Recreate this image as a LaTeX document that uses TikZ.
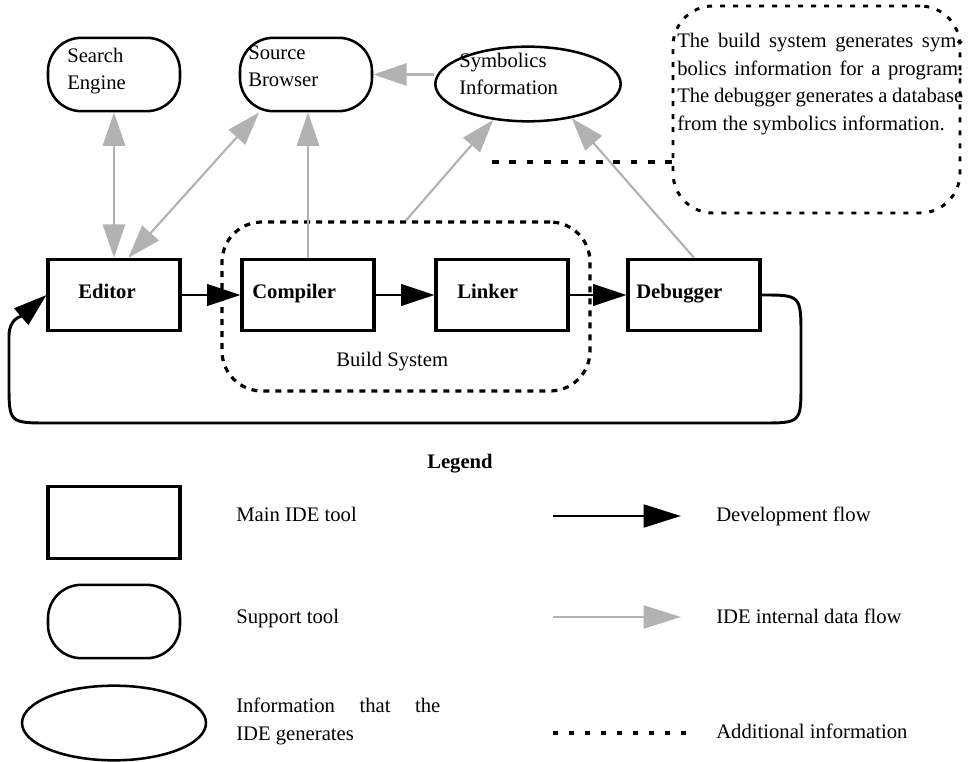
\documentclass[tikz,border=0pt]{standalone}
\usepackage{fontspec}
\setmainfont{Liberation Serif}
\usetikzlibrary{arrows.meta,shapes.geometric,calc}
\definecolor{flowgrey}{RGB}{178,178,178}

\begin{document}
\begin{tikzpicture}[x=0.75pt,y=0.75pt,yscale=-1,xscale=1,
  every node/.style={font=\fontsize{15.5}{20.6}\selectfont},
  tool/.style={draw, line width=2.3pt, minimum width=99pt, minimum height=53.5pt, inner sep=0pt},
  support/.style={draw, line width=1.9pt, rounded corners=25pt, minimum width=99pt, minimum height=55pt, inner sep=0pt},
  info/.style={draw, ellipse, line width=1.9pt, minimum width=139pt, minimum height=56pt, inner sep=0pt},
  txt/.style={inner sep=0pt, align=left},
  devflow/.style={line width=2.2pt, -{Triangle[length=25pt,width=16pt]}},
  dataflow/.style={color=flowgrey, line width=2.1pt, -{Triangle[length=25pt,width=16.5pt]}},
  twoway/.style={color=flowgrey, line width=2.1pt, {Triangle[length=25pt,width=16.5pt]}-{Triangle[length=25pt,width=16.5pt]}},
  region/.style={draw, line width=2.4pt, dash pattern={on 4.5pt off 4.5pt}},
  addinfo/.style={line width=2.3pt, dash pattern={on 5pt off 8pt}},
]
\useasboundingbox (0,0) rectangle (973,762);

%Shapes: Main IDE tools
\node [tool] (editor) at (114,295) {};
\node [tool] (compiler) at (308,295) {};
\node [tool] (linker) at (502,295) {};
\node [tool] (debugger) at (694,295) {};
%Shapes: Support tools and information
\node [support] (search) at (114,74.5) {};
\node [support] (source) at (306,74.5) {};
\node [info] (symb) at (528,84) {};
%Shapes: Build system and note
\node [region, rounded corners=30pt, minimum width=276pt, minimum height=126.75pt] (build) at (406,306.5) {};
\node [region, rounded corners=30pt, minimum width=215.25pt, minimum height=155.25pt, dash pattern={on 3.75pt off 6pt}, line width=2.2pt] (note) at (816.5,109.5) {};

% Text Node
\draw (78,299) node [txt, anchor=base west] (editorlbl) {\textbf{Editor}};
% Text Node
\draw (252,299) node [txt, anchor=base west] (compilerlbl) {\textbf{Compiler}};
% Text Node
\draw (457,299) node [txt, anchor=base west] (linkerlbl) {\textbf{Linker}};
% Text Node
\draw (636,299) node [txt, anchor=base west] (debuggerlbl) {\textbf{Debugger}};
% Text Node
\draw (67,47.5) node [txt, anchor=north west] (searchlbl) {Search\\Engine};
% Text Node
\draw (248,45.5) node [txt, anchor=north west] (sourcelbl) {Source\\Browser};
% Text Node
\draw (459,52.5) node [txt, anchor=north west] (symblbl) {Symbolics\\Information};
% Text Node
\draw (336,367) node [txt, anchor=base west] (buildlbl) {Build System};
% Text Node
\draw (677,33) node [txt, anchor=north west] (notelbl) {\makebox[214.5pt][s]{The build system generates sym-}\\
  \makebox[214.5pt][s]{bolics information for a program.}\\
  \makebox[214.5pt][s]{The debugger generates a database}\\
  from the symbolics information.};

%Development flow
\draw [devflow] (editor.east) -- (compiler.west);
\draw [devflow] (compiler.east) -- (linker.west);
\draw [devflow] (linker.east) -- (debugger.west);
\draw [devflow] (debugger.east) .. controls (801,295) .. (801,337) -- (801,383)
  .. controls (801,423) .. (761,423) -- (49,423) .. controls (9,423) .. (9,383)
  -- (9,336) .. controls (9,318) and (22,316) .. (editor.west);

%Internal data flow
\draw [twoway] (search.south) -- (editor.north);
\draw [twoway, line width=1.6pt] (editor.69) -- (source.219);
\draw [dataflow] (compiler.north) -- (compiler.north |- source.south);
\draw [dataflow] (source.east -| symb.west) -- (source.east);
\draw [dataflow, line width=1.6pt] (build.north) -- (symb.226);
\draw [dataflow, line width=1.6pt] (debugger.north) -- (symb.322);

%Additional information
\coordinate (notetail) at (492,162);
\draw [addinfo] (notetail) -- (notetail -| note.west);

%Legend
\draw (427,468) node [txt, anchor=base west] (legendlbl) {\textbf{Legend}};
\node [tool] (lgtool) at (114,522.5) {};
\node [support] (lgsupport) at (114,621.5) {};
\node [info, minimum width=138pt] (lginfo) at (114,723) {};
% Text Node
\draw (236,521) node [txt, anchor=base west] (lgtoollbl) {Main IDE tool};
% Text Node
\draw (236,623) node [txt, anchor=base west] (lgsupportlbl) {Support tool};
% Text Node
\draw (236,698) node [txt, anchor=north west] (lginfolbl) {\makebox[153pt][s]{Information that the}\\IDE generates};
\coordinate (lgdev-a) at (553,516);
\coordinate (lgdev-b) at (681,516);
\coordinate (lgdata-a) at (553,617);
\coordinate (lgdata-b) at (681,617);
\coordinate (lgadd-a) at (553,733);
\coordinate (lgadd-b) at (686,733);
\draw [devflow, -{Triangle[length=28pt,width=17pt]}] (lgdev-a) -- (lgdev-b);
\draw [dataflow, -{Triangle[length=28pt,width=17pt]}] (lgdata-a) -- (lgdata-b);
\draw [addinfo, dash pattern={on 3.5pt off 8.5pt}] (lgadd-a) -- (lgadd-b);
% Text Node
\draw (716,521) node [txt, anchor=base west] (lgdevlbl) {Development flow};
% Text Node
\draw (716,623) node [txt, anchor=base west] (lgdatalbl) {IDE internal data flow};
% Text Node
\draw (716,738) node [txt, anchor=base west] (lgaddlbl) {Additional information};

\end{tikzpicture}
\end{document}
